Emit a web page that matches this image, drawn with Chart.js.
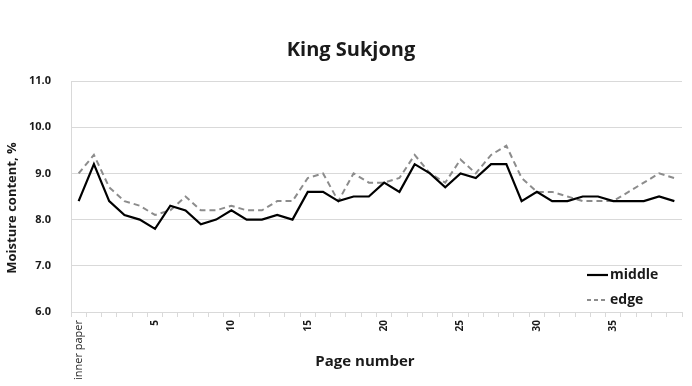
<!DOCTYPE html>
<html><head><meta charset="utf-8">
<script src="https://cdn.jsdelivr.net/npm/chart.js@4/dist/chart.umd.min.js"></script>
<style>html,body{margin:0;padding:0;background:#fff}#wrap{width:692px;height:386px}</style>
</head><body><div id="wrap"><canvas id="c" width="692" height="386"></canvas></div>
<script>
const categories = ["inner paper"];
for (let p = 1; p <= 39; p++) categories.push(String(p));
const middle = [8.4, 9.2, 8.4, 8.1, 8.0, 7.8, 8.3, 8.2, 7.9, 8.0, 8.2, 8.0, 8.0, 8.1, 8.0, 8.6, 8.6, 8.4, 8.5, 8.5,
                8.8, 8.6, 9.2, 9.0, 8.7, 9.0, 8.9, 9.2, 9.2, 8.4, 8.6, 8.4, 8.4, 8.5, 8.5, 8.4, 8.4, 8.4, 8.5, 8.4];
const edge   = [9.0, 9.4, 8.7, 8.4, 8.3, 8.1, 8.2, 8.5, 8.2, 8.2, 8.3, 8.2, 8.2, 8.4, 8.4, 8.9, 9.0, 8.4, 9.0, 8.8,
                8.8, 8.9, 9.4, 9.0, 8.8, 9.3, 9.0, 9.4, 9.6, 8.9, 8.6, 8.6, 8.5, 8.4, 8.4, 8.4, 8.6, 8.8, 9.0, 8.9];
const yTicks = [6.0, 7.0, 8.0, 9.0, 10.0, 11.0];
const titleText = "King Sukjong";
const xTitle = "Page number";
const yTitle = "Moisture content, %";

const FONT = "'Open Sans', 'DejaVu Sans', sans-serif";

const textPlugin = {
  id: 'texts',
  afterDraw(chart) {
    const ctx = chart.ctx;
    ctx.save();
    ctx.fillStyle = '#1a1a1a';
    ctx.textAlign = 'center'; ctx.textBaseline = 'middle';
    ctx.font = "bold 20px " + FONT;
    ctx.fillText(titleText, 351, 50);
    ctx.font = "bold 15px " + FONT;
    ctx.fillText(xTitle, 365, 362);
    ctx.save();
    ctx.translate(12, 208);
    ctx.rotate(-Math.PI / 2);
    ctx.font = "bold 13px " + FONT;
    ctx.fillText(yTitle, 0, 0);
    ctx.restore();
    // legend inside plot
    const items = chart.data.datasets;
    const lx = 587, ly = [275, 300];
    items.forEach((ds, i) => {
      ctx.beginPath();
      ctx.strokeStyle = ds.borderColor;
      ctx.lineWidth = ds.borderWidth;
      ctx.setLineDash(i === 1 ? [4, 3] : []);
      ctx.moveTo(lx, ly[i]); ctx.lineTo(lx + 21, ly[i]);
      ctx.stroke();
      ctx.setLineDash([]);
      ctx.textAlign = 'left';
      ctx.fillStyle = '#1a1a1a';
      ctx.font = "bold 14px " + FONT;
      ctx.fillText(ds.label, lx + 23, ly[i]);
    });
    ctx.restore();
  }
};

new Chart(document.getElementById('c'), {
  type: 'line',
  data: {
    labels: categories,
    datasets: [
      { label: 'middle', data: middle, borderColor: '#000000', borderWidth: 2.2, pointRadius: 0, tension: 0, fill: false },
      { label: 'edge', data: edge, borderColor: '#8c8c8c', borderWidth: 2, borderDash: [6, 4], pointRadius: 0, tension: 0, fill: false }
    ]
  },
  options: {
    responsive: false,
    animation: false,
    layout: { padding: { left: 4, right: 10, top: 81, bottom: 0 } },
    plugins: { legend: { display: false }, title: { display: false }, tooltip: { enabled: false } },
    scales: {
      x: {
        type: 'category',
        offset: true,
        grid: { display: true, offset: true, drawOnChartArea: false, drawTicks: true, tickLength: 5, color: '#d9d9d9' },
        border: { display: true, color: '#d9d9d9', width: 1 },
        ticks: {
          autoSkip: false, maxRotation: 90, minRotation: 90, padding: 3, color: '#1a1a1a',
          font: (ctx) => (ctx.index === 0 ? { family: FONT, size: 11, weight: 'normal' } : { family: FONT, size: 10, weight: 'bold' }),
          callback: function(v, i) { return (i === 0 || i % 5 === 0) ? categories[i] : ''; }
        },
        afterFit(scale) { scale.height = 74; }
      },
      y: {
        min: 6, max: 11,
        afterBuildTicks(scale) { scale.ticks = yTicks.map(v => ({ value: v })); },
        grid: { color: '#d9d9d9', drawTicks: false },
        border: { display: true, color: '#d9d9d9' },
        ticks: { padding: 20, color: '#1a1a1a', font: { family: FONT, size: 11, weight: 'bold' },
          callback: (v) => Number(v).toFixed(1) },
        afterFit(scale) { scale.width = 67; }
      }
    }
  },
  plugins: [textPlugin]
});
</script>
</body></html>
